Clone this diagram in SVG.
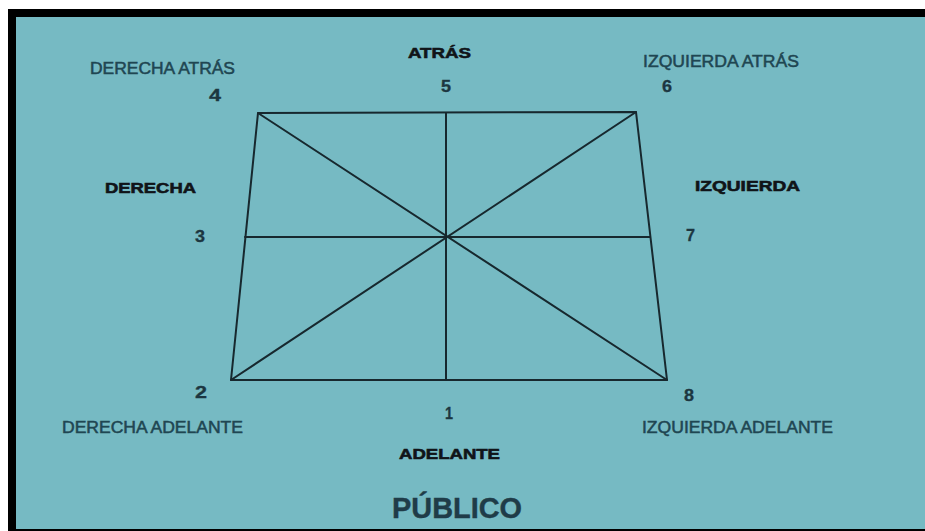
<svg xmlns="http://www.w3.org/2000/svg" width="925" height="531" viewBox="0 0 925 531">
  <style>
    .corner { font-family: "Liberation Sans", Arial, sans-serif; font-size: 16px; fill: #1f4652; stroke: #1f4652; stroke-width: 0.5px; }
    .side { font-family: "Liberation Sans", Arial, sans-serif; font-size: 15.5px; font-weight: bold; fill: #101418; stroke: #101418; stroke-width: 0.6px; }
    .num { font-family: "Liberation Sans", Arial, sans-serif; font-size: 16px; font-weight: bold; fill: #1c3640; stroke: #1c3640; stroke-width: 0.3px; }
    .pub { font-family: "Liberation Sans", Arial, sans-serif; font-size: 29px; font-weight: bold; fill: #1f3c48; stroke: #1f3c48; stroke-width: 0.4px; }
    .ln { stroke: #17282e; stroke-width: 2; fill: none; stroke-linecap: round; stroke-linejoin: round; }
  </style>
  <rect x="0" y="0" width="925" height="531" fill="#ffffff"/>
  <rect x="8" y="9" width="917" height="522" fill="#000000"/>
  <rect x="16" y="17" width="909" height="512" fill="#76bac3"/>

  <g id="connectors">
    <polygon class="ln" points="258,113 636,112 667,380 231,380"/>
    <line class="ln" x1="446" y1="113" x2="446" y2="380"/>
    <line class="ln" x1="245" y1="237" x2="650" y2="237"/>
    <line class="ln" x1="258" y1="113" x2="667" y2="380"/>
    <line class="ln" x1="636" y1="112" x2="231" y2="380"/>
  </g>

  <g id="node-4">
    <text class="corner" x="90" y="74" textLength="145" lengthAdjust="spacingAndGlyphs">DERECHA ATRÁS</text>
    <text class="num" x="209" y="101" textLength="12" lengthAdjust="spacingAndGlyphs">4</text>
  </g>
  <g id="node-5">
    <text class="side" x="408" y="58" textLength="63" lengthAdjust="spacingAndGlyphs">ATRÁS</text>
    <text class="num" x="441" y="92" textLength="10" lengthAdjust="spacingAndGlyphs">5</text>
  </g>
  <g id="node-6">
    <text class="corner" x="643" y="67" textLength="156" lengthAdjust="spacingAndGlyphs">IZQUIERDA ATRÁS</text>
    <text class="num" x="662" y="92" textLength="10" lengthAdjust="spacingAndGlyphs">6</text>
  </g>
  <g id="node-3">
    <text class="side" x="105" y="193" textLength="91" lengthAdjust="spacingAndGlyphs">DERECHA</text>
    <text class="num" x="195" y="242" textLength="10" lengthAdjust="spacingAndGlyphs">3</text>
  </g>
  <g id="node-7">
    <text class="side" x="695" y="191" textLength="105" lengthAdjust="spacingAndGlyphs">IZQUIERDA</text>
    <text class="num" x="686" y="241" textLength="9" lengthAdjust="spacingAndGlyphs">7</text>
  </g>
  <g id="node-2">
    <text class="num" x="195" y="398" textLength="12" lengthAdjust="spacingAndGlyphs">2</text>
    <text class="corner" x="62" y="433" textLength="181" lengthAdjust="spacingAndGlyphs">DERECHA ADELANTE</text>
  </g>
  <g id="node-8">
    <text class="num" x="684" y="401" textLength="10" lengthAdjust="spacingAndGlyphs">8</text>
    <text class="corner" x="642" y="433" textLength="191" lengthAdjust="spacingAndGlyphs">IZQUIERDA ADELANTE</text>
  </g>
  <g id="node-1">
    <text class="num" x="445" y="419" textLength="8" lengthAdjust="spacingAndGlyphs">1</text>
    <text class="side" x="399" y="459" textLength="101" lengthAdjust="spacingAndGlyphs">ADELANTE</text>
  </g>
  <g id="publico">
    <text class="pub" x="392" y="518" textLength="130" lengthAdjust="spacingAndGlyphs">PÚBLICO</text>
  </g>
</svg>
